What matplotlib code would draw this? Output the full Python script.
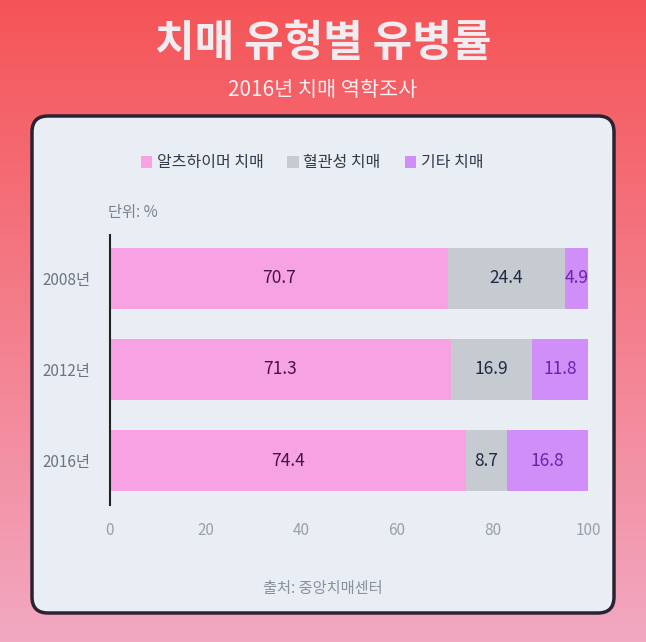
import numpy as np
import matplotlib
matplotlib.use('Agg')
from matplotlib import pyplot as plt
from matplotlib.patches import FancyBboxPatch

plt.rcParams['font.family'] = ['Noto Sans CJK KR', 'DejaVu Sans']

years = ['2008년', '2012년', '2016년']
alzheimer = [70.7, 71.3, 74.4]
vascular = [24.4, 16.9, 8.7]
other = [4.9, 11.8, 16.8]
series_names = ['알츠하이머 치매', '혈관성 치매', '기타 치매']
series_colors = ['#f7a3e3', '#c6cad1', '#cf8ef8']
label_colors = ['#4a0f48', '#1f2a44', '#6b23a8']
x_ticks = [0, 20, 40, 60, 80, 100]

W, H = 646, 642
fig = plt.figure(figsize=(W / 100, H / 100), dpi=100)

# gradient background + panel in one full-figure axes
bg = fig.add_axes([0, 0, 1, 1])
t = np.linspace(0, 1, 256)[:, None]
top = np.array([0.96, 0.33, 0.34])
bot = np.array([0.95, 0.66, 0.76])
grad = top + (bot - top) * t
img = np.repeat(grad[:, None, :], 2, axis=1)
bg.imshow(img, aspect='auto', extent=[0, W, H, 0], origin='upper')
bg.set_xlim(0, W)
bg.set_ylim(H, 0)
bg.axis('off')

px0, py0, px1, py1 = 32, 116, 614, 613
panel = FancyBboxPatch((px0, py0), px1 - px0, py1 - py0,
                       boxstyle='round,pad=0,rounding_size=16',
                       facecolor='#e9eef5', edgecolor='#2a2233', linewidth=2.5)
bg.add_patch(panel)

bg.text(W / 2, 43, '치매 유형별 유병률', ha='center', va='center',
        fontsize=31, fontweight='bold', color='#f1ecf0')
bg.text(W / 2, 90, '2016년 치매 역학조사', ha='center', va='center',
        fontsize=15, color='#f6eef2')
bg.text(108, 213, '단위: %', ha='left', va='center',
        fontsize=11, color='#7a808c')
bg.text(323, 588, '출처: 중앙치매센터', ha='center', va='center',
        fontsize=11, color='#8a909c')

# chart axes
ax0, ax1, ay0, ay1 = 110, 588, 235, 505
ax = fig.add_axes([ax0 / W, 1 - ay1 / H, (ax1 - ax0) / W, (ay1 - ay0) / H])
ax.set_facecolor('none')
y = np.arange(len(years))
series = [alzheimer, vascular, other]
left = np.zeros(len(years))
for vals, name, col, lc in zip(series, series_names, series_colors, label_colors):
    vals = np.array(vals)
    ax.barh(y, vals, left=left, height=0.67, color=col, label=name)
    for yi, v, l in zip(y, vals, left):
        ax.text(l + v / 2, yi, f'{v:.1f}', ha='center', va='center',
                fontsize=12.5, color=lc)
    left = left + vals

ax.set_xlim(0, 100)
ax.set_ylim(2.489, -0.478)
ax.set_yticks(y)
ax.set_yticklabels(years)
ax.set_xticks(x_ticks)
ax.tick_params(axis='y', length=0, pad=14, labelsize=11, labelcolor='#6d7380')
ax.tick_params(axis='x', length=0, pad=12, labelsize=11, labelcolor='#9aa0aa')
for s in ['top', 'right', 'bottom']:
    ax.spines[s].set_visible(False)
ax.spines['left'].set_color('#222222')
ax.spines['left'].set_linewidth(1.5)

fig.legend(loc='center', bbox_to_anchor=(312 / W, 1 - 163 / H), ncol=3,
           frameon=False, fontsize=11.5, handlelength=0.7, handleheight=0.7,
           handletextpad=0.3, columnspacing=1.5, labelcolor='#333a48')

fig.savefig('out.png', dpi=100)
